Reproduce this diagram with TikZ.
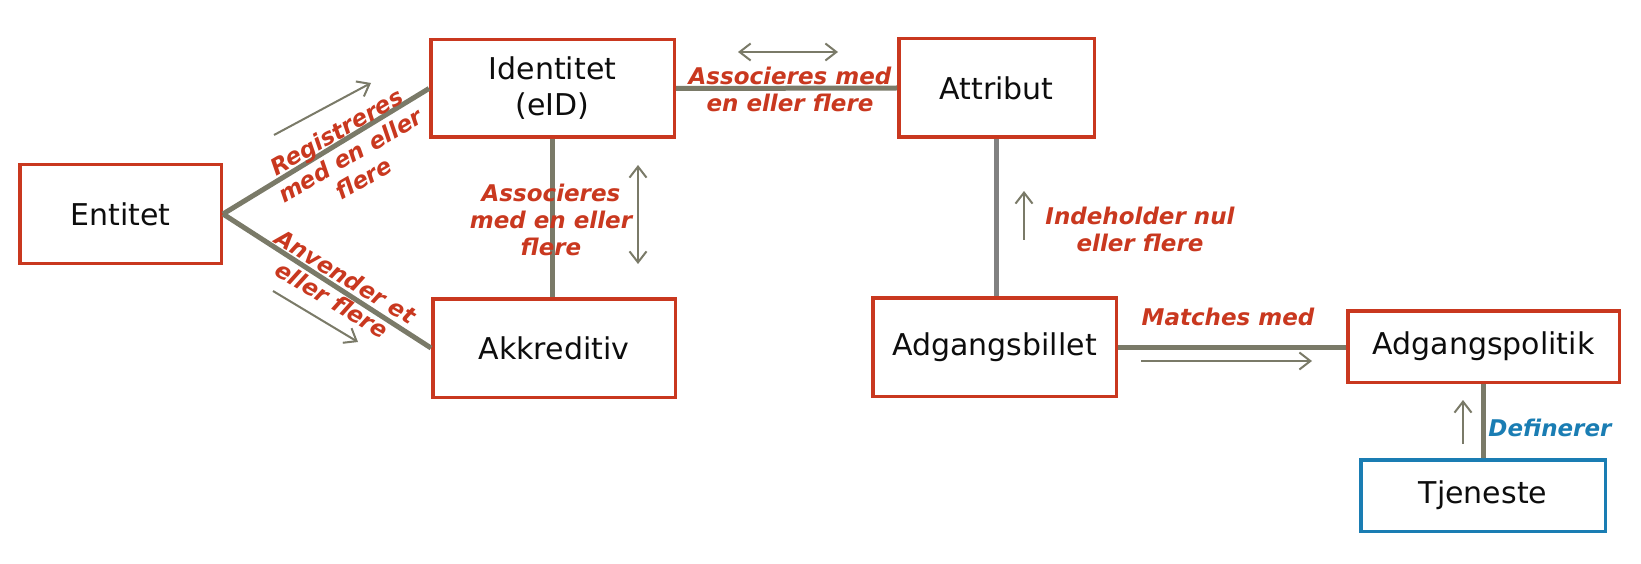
\documentclass[tikz,border=0pt]{standalone}
\usepackage{fontspec}
\setmainfont{DejaVu Sans}
\usetikzlibrary{arrows.meta}
\definecolor{bred}{HTML}{C9381F}
\definecolor{bblue}{HTML}{1A7DB3}
\definecolor{lgray}{HTML}{7A7A68}
\definecolor{vgray}{HTML}{818181}
\begin{document}
\begin{tikzpicture}[x=1pt,y=-1pt,
  box/.style={draw=bred, line width=3.5pt, fill=white, inner sep=0pt, align=center,
    font=\fontsize{30}{36}\selectfont, text=black!95},
  conn/.style={draw=lgray, line width=5pt},
  tarrow/.style={draw=lgray, line width=2pt, -{Straight Barb[length=11pt,width=17pt,line width=2pt]}},
  tdarrow/.style={draw=lgray, line width=2pt, {Straight Barb[length=11pt,width=17pt,line width=2pt]}-{Straight Barb[length=11pt,width=17pt,line width=2pt]}},
  lab/.style={text=bred, inner sep=0pt, align=center,
    font=\bfseries\itshape\fontsize{23}{27}\selectfont}]
\useasboundingbox (0,0) rectangle (1641,564);

% boxes
\node[box, minimum width=201.5pt, minimum height=98.5pt] (ent) at (120.5,214) {Entitet};
\node[box, minimum width=243.5pt, minimum height=97.5pt] (ide) at (552.5,88.5) {Identitet\\(eID)};
\node[box, minimum width=242.5pt, minimum height=98.5pt] (akk) at (554,348) {Akkreditiv};
\node[box, minimum width=195.5pt, minimum height=98.5pt] (att) at (996.5,88) {Attribut};
\node[box, minimum width=243.5pt, minimum height=98.5pt] (adb) at (994.5,347) {Adgangsbillet};
\node[box, minimum width=271.5pt, minimum height=71.5pt] (adp) at (1483.5,346.5) {Adgangspolitik};
\node[box, draw=bblue, minimum width=244.5pt, minimum height=71.5pt] (tje) at (1483,495.5) {Tjeneste};

% connectors
\draw[conn] (ent.east) -- (ide.west);
\draw[conn] (ent.east) -- (akk.west);
\draw[conn] (ide.south) -- (ide.south |- akk.north);
\draw[conn] (ide.east) -- (att.west);
\draw[conn, draw=vgray] (att.south) -- (att.south |- adb.north);
\draw[conn] (adb.east) -- (adb.east -| adp.west);
\draw[conn] (adp.south) -- (adp.south |- tje.north);

% direction arrows
\coordinate (r1) at (274,135); \coordinate (r2) at (371,83);
\coordinate (a1) at (273,291); \coordinate (a2) at (358,342);
\coordinate (h1) at (738,52);  \coordinate (h2) at (838,52);
\coordinate (v1) at (638,165); \coordinate (v2) at (638,264);
\coordinate (i1) at (1024,240); \coordinate (i2) at (1024,191);
\coordinate (m1) at (1141,361); \coordinate (m2) at (1312,361);
\coordinate (d1) at (1463,444); \coordinate (d2) at (1463,400);
\draw[tarrow] (r1) -- (r2);
\draw[tarrow] (a1) -- (a2);
\draw[tdarrow] (h1) -- (h2);
\draw[tdarrow] (v1) -- (v2);
\draw[tarrow] (i1) -- (i2);
\draw[tarrow] (m1) -- (m2);
\draw[tarrow] (d1) -- (d2);

% labels
\node[lab, rotate=30] (l1) at (350,155) {Registreres\\med en eller\\flere};
\node[lab, rotate=-31] (l2) at (339,288) {Anvender et\\eller flere};
\node[lab] (l3) at (551,220) {Associeres\\med en eller\\flere};
\node[lab] (l4) at (790,89.5) {Associeres med\\en eller flere};
\node[lab] (l5) at (1140,229) {Indeholder nul\\eller flere};
\node[lab] (l6) at (1228,317) {Matches med};
\node[lab, text=bblue] (l7) at (1550,428) {Definerer};
\end{tikzpicture}
\end{document}
